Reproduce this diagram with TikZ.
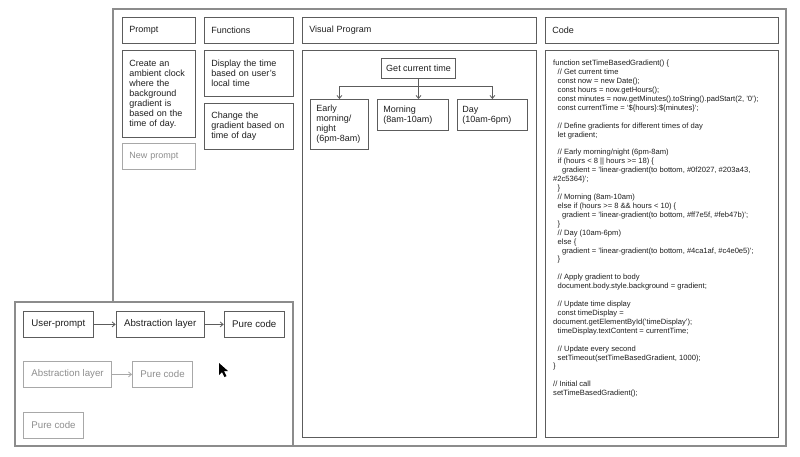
\documentclass[tikz,border=0pt]{standalone}
\usepackage{fontspec}
\setmainfont{Liberation Sans}
\usetikzlibrary{arrows.meta, positioning}

\definecolor{framegray}{HTML}{8C8C8C}
\definecolor{boxgray}{HTML}{5C5C5C}
\definecolor{inkgray}{HTML}{1F1F1F}
\definecolor{fadegray}{HTML}{8E8E8E}
\definecolor{fadeline}{HTML}{A8A8A8}

\newcommand{\codetab}{\hspace*{4.5pt}}

\begin{document}
\begin{tikzpicture}[
    x=1pt, y=-1pt,
    panel/.style={
        draw=framegray,
        line width=1.2pt,
        fill=white,
    },
    card/.style={
        draw=boxgray,
        line width=0.8pt,
        fill=white,
        anchor=north west,
        inner xsep=7pt,
        inner ysep=0pt,
        align=left,
        text=inkgray,
        font=\fontsize{9}{10}\selectfont,
    },
    faded/.style={
        draw=fadeline,
        text=fadegray,
    },
    chip/.style={
        card,
        inner xsep=8pt,
        minimum height=26pt,
        font=\fontsize{9.7}{11}\selectfont,
    },
    flow/.style={
        draw=boxgray,
        line width=0.8pt,
        -{Straight Barb[length=3pt, width=5pt]},
    },
    codetext/.style={
        anchor=north west,
        inner sep=0pt,
        align=left,
        text=inkgray,
        font=\fontsize{7.6}{8.92}\selectfont,
    }
]
    \fill[white] (0,0) rectangle (800,456);
    \useasboundingbox (0,0) rectangle (800,456);

    % Outer frame
    \draw[panel] (113,9) rectangle (786,446);

    % Prompt column
    \node[card, minimum width=73pt, minimum height=26pt, text width=59pt] (prompthead) at (122,17) {Prompt};
    \node[card, minimum width=73pt, minimum height=87pt, text width=59pt] (promptbody) at (122,50)
        {Create an\\ ambient clock\\ where the\\ background\\ gradient is\\ based on the\\ time of day.};
    \node[card, faded, minimum width=73pt, minimum height=26pt, text width=59pt] (newprompt) at (122,143) {New prompt};

    % Functions column
    \node[card, minimum width=89pt, minimum height=26pt, text width=75pt] (funchead) at (204,17) {Functions};
    \node[card, minimum width=89pt, minimum height=46pt, text width=75pt] (funcdisplay) at (204,50)
        {Display the time\\ based on user's\\ local time};
    \node[card, minimum width=89pt, minimum height=46pt, text width=75pt] (funcgradient) at (204,103)
        {Change the\\ gradient based on\\ time of day};

    % Visual program column
    \node[card, minimum width=234pt, minimum height=26pt, text width=220pt] (vphead) at (302,17) {Visual Program};
    \node[card, minimum width=234pt, minimum height=387pt] (vpbody) at (302,50) {};

    \node[card, anchor=north, inner xsep=5pt, minimum height=20pt] (gettime) at (418.5,58) {Get current time};
    \node[card, inner xsep=6pt, minimum width=58pt, minimum height=50pt, text width=46pt] (early) at (310,99)
        {Early\\ morning/\\ night\\ (6pm-8am)};
    \node[card, inner xsep=6pt, minimum width=71pt, minimum height=31pt, text width=59pt] (morning) at (377,99)
        {Morning\\ (8am-10am)};
    \node[card, inner xsep=5pt, minimum width=70pt, minimum height=31pt, text width=60pt] (day) at (457,99)
        {Day\\ (10am-6pm)};

    \coordinate (split) at ([yshift=-8pt]gettime.south);
    \draw[flow] (gettime.south) -- (gettime.south |- morning.north);
    \draw[flow] (split) -| (early.north);
    \draw[flow] (split) -| (day.north);

    % Code column
    \node[card, minimum width=233pt, minimum height=26pt, text width=219pt] (codehead) at (545,17) {Code};
    \node[card, minimum width=233pt, minimum height=387pt] (codebody) at (545,50) {};
    \node[codetext] (code) at (553,60) {%
        function setTimeBasedGradient() \{\\
        \codetab// Get current time\\
        \codetab const now = new Date();\\
        \codetab const hours = now.getHours();\\
        \codetab const minutes = now.getMinutes().toString().padStart(2, '0');\\
        \codetab const currentTime = `\$\{hours\}:\$\{minutes\}`;\\[8.92pt]
        \codetab// Define gradients for different times of day\\
        \codetab let gradient;\\[8.92pt]
        \codetab// Early morning/night (6pm-8am)\\
        \codetab if (hours < 8 || hours >= 18) \{\\
        \codetab\codetab gradient = 'linear-gradient(to bottom, \#0f2027, \#203a43,\\
        \#2c5364)';\\
        \codetab\}\\
        \codetab// Morning (8am-10am)\\
        \codetab else if (hours >= 8 \&\& hours < 10) \{\\
        \codetab\codetab gradient = 'linear-gradient(to bottom, \#ff7e5f, \#feb47b)';\\
        \codetab\}\\
        \codetab// Day (10am-6pm)\\
        \codetab else \{\\
        \codetab\codetab gradient = 'linear-gradient(to bottom, \#4ca1af, \#c4e0e5)';\\
        \codetab\}\\[8.92pt]
        \codetab// Apply gradient to body\\
        \codetab document.body.style.background = gradient;\\[8.92pt]
        \codetab// Update time display\\
        \codetab const timeDisplay =\\
        document.getElementById('timeDisplay');\\
        \codetab timeDisplay.textContent = currentTime;\\[8.92pt]
        \codetab// Update every second\\
        \codetab setTimeout(setTimeBasedGradient, 1000);\\
        \}\\[8.92pt]
        // Initial call\\
        setTimeBasedGradient();};

    % Layers panel
    \draw[panel] (15,302) rectangle (293,446);

    \node[chip] (userprompt) at (23,311) {User-prompt};
    \node[chip, right=22pt of userprompt] (abstraction) {Abstraction layer};
    \node[chip, right=19pt of abstraction] (purecode) {Pure code};
    \draw[flow] (userprompt) -- (abstraction);
    \draw[flow] (abstraction) -- (purecode);

    \node[chip, faded] (abstractiontwo) at (23,361) {Abstraction layer};
    \node[chip, faded, right=20pt of abstractiontwo] (purecodetwo) {Pure code};
    \draw[flow, draw=fadeline] (abstractiontwo) -- (purecodetwo);

    \node[chip, faded] (purecodethree) at (23,412) {Pure code};

    % Mouse pointer
    \fill[black] (219,363) -- (219,375) -- (222,372) -- (224.5,377) -- (226.5,376)
        -- (224,371) -- (228,371) -- cycle;
\end{tikzpicture}
\end{document}
